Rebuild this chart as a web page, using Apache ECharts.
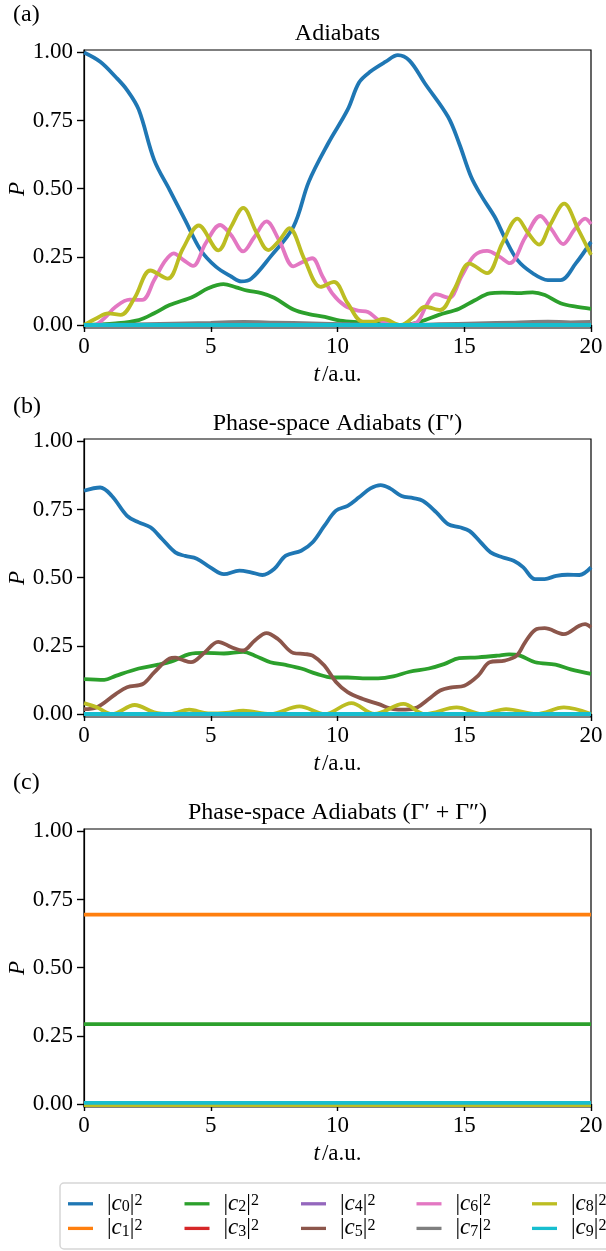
<!DOCTYPE html>
<html>
<head>
<meta charset="utf-8">
<script src="https://cdn.jsdelivr.net/npm/echarts@6/dist/echarts.min.js"></script>
<style>
html,body{margin:0;padding:0;background:#fff;}
#chart{width:606px;height:1251px;}
</style>
</head>
<body>
<div id="chart"></div>
<script>
// ---------- data ----------
const seriesNames = ['c0','c1','c2','c3','c4','c5','c6','c7','c8','c9'];
const seriesColors = ['#1f77b4','#ff7f0e','#2ca02c','#d62728','#9467bd','#8c564b','#e377c2','#7f7f7f','#bcbd22','#17becf'];
const panelTitles = ['Adiabats', 'Phase-space Adiabats (Γ′)', 'Phase-space Adiabats (Γ′ + Γ″)'];
const panelLetters = ['(a)', '(b)', '(c)'];
const xTicks = [0, 5, 10, 15, 20];
const yTicks = [0, 0.25, 0.5, 0.75, 1.0];

const zeroLine = [[0, 0], [20, 0]];

// panel (a)
const a_c0 = [[0,1.0],[0.64,0.966],[1.25,0.91],[1.7,0.862],[2.16,0.79],[2.77,0.605],[3.38,0.495],[3.99,0.385],[4.6,0.275],[5.2,0.214],[5.82,0.177],[6.2,0.16],[6.6,0.17],[7.35,0.25],[8.26,0.36],[8.87,0.526],[9.63,0.666],[10.4,0.79],[10.85,0.89],[11.3,0.93],[11.9,0.966],[12.38,0.99],[12.84,0.97],[13.45,0.886],[14.36,0.764],[14.8,0.666],[15.27,0.544],[15.7,0.47],[16.2,0.397],[16.6,0.32],[17.1,0.238],[17.7,0.19],[18.3,0.165],[18.8,0.165],[19.4,0.226],[20,0.305]];
const a_c2 = [[0,0],[1.25,0.006],[2.16,0.018],[2.77,0.043],[3.38,0.073],[4.3,0.104],[4.9,0.135],[5.5,0.15],[6.0,0.138],[6.45,0.126],[7.0,0.117],[7.5,0.1],[8.26,0.057],[8.87,0.04],[9.5,0.03],[10.1,0.016],[10.85,0.01],[11.6,0.006],[12.5,0.0],[13.26,0.012],[14.0,0.037],[14.8,0.06],[15.4,0.09],[16.0,0.116],[16.5,0.119],[17.25,0.117],[17.7,0.12],[18.18,0.11],[18.8,0.08],[19.4,0.067],[20,0.059]];
const a_c6 = [[0,0],[0.4,0.0],[0.8,0.025],[1.25,0.067],[1.8,0.093],[2.3,0.092],[2.77,0.165],[3.2,0.235],[3.54,0.263],[3.9,0.24],[4.3,0.217],[4.8,0.3],[5.37,0.367],[5.8,0.33],[6.28,0.27],[6.7,0.32],[7.2,0.38],[7.7,0.31],[8.26,0.215],[8.6,0.23],[9.0,0.245],[9.4,0.18],[9.8,0.115],[10.3,0.07],[10.8,0.053],[11.2,0.048],[11.6,0.02],[12.0,0.008],[12.5,0.0],[13.1,0.008],[13.5,0.07],[13.87,0.113],[14.4,0.1],[14.9,0.18],[15.4,0.255],[15.9,0.272],[16.4,0.25],[16.8,0.227],[17.4,0.32],[18.0,0.4],[18.45,0.35],[18.9,0.297],[19.35,0.35],[19.77,0.39],[20,0.37]];
const a_c7 = [[0,0],[2,0.002],[4,0.006],[5,0.008],[6.3,0.011],[7.5,0.009],[9,0.006],[10.5,0.003],[12.5,0.0],[14,0.003],[15.5,0.006],[17,0.009],[18.3,0.012],[19.2,0.01],[20,0.011]];
const a_c8 = [[0,0],[0.5,0.025],[0.95,0.043],[1.45,0.037],[2.0,0.1],[2.62,0.2],[3.3,0.17],[3.9,0.28],[4.53,0.365],[5.3,0.274],[5.8,0.36],[6.28,0.43],[6.8,0.34],[7.27,0.275],[7.7,0.31],[8.1,0.355],[8.7,0.24],[9.33,0.14],[9.86,0.158],[10.4,0.08],[11.0,0.012],[11.4,0.012],[11.8,0.022],[12.5,0.0],[13.0,0.03],[13.45,0.067],[14.05,0.055],[14.6,0.13],[15.2,0.225],[15.9,0.19],[16.5,0.3],[17.1,0.39],[17.5,0.34],[17.95,0.295],[18.4,0.37],[18.94,0.445],[19.5,0.35],[20,0.257]];

// panel (b)
const b_c0 = [[0,0.819],[0.64,0.831],[1.1,0.80],[1.7,0.727],[2.16,0.703],[2.62,0.685],[3.08,0.642],[3.6,0.593],[3.99,0.58],[4.45,0.57],[4.98,0.538],[5.52,0.513],[6.13,0.526],[6.58,0.52],[7.04,0.51],[7.5,0.532],[7.96,0.581],[8.57,0.599],[9.02,0.63],[9.48,0.69],[9.94,0.746],[10.4,0.764],[10.85,0.795],[11.3,0.828],[11.7,0.84],[12.07,0.828],[12.53,0.80],[12.99,0.792],[13.37,0.782],[13.9,0.74],[14.36,0.697],[14.82,0.685],[15.2,0.672],[15.65,0.63],[16.04,0.593],[16.5,0.575],[16.95,0.562],[17.33,0.538],[17.79,0.495],[18.17,0.495],[18.63,0.507],[19.08,0.511],[19.54,0.51],[20,0.538]];
const b_c2 = [[0,0.128],[0.8,0.125],[1.25,0.14],[2.16,0.167],[2.93,0.181],[3.54,0.196],[4.15,0.22],[4.76,0.224],[5.52,0.222],[6.28,0.228],[6.74,0.214],[7.35,0.19],[7.96,0.18],[8.57,0.167],[9.18,0.147],[9.79,0.134],[10.4,0.134],[11.0,0.131],[11.6,0.131],[12.2,0.138],[12.84,0.155],[13.6,0.167],[14.2,0.183],[14.8,0.205],[15.55,0.208],[16.3,0.214],[16.77,0.219],[17.2,0.214],[17.8,0.19],[18.6,0.181],[19.2,0.164],[20,0.147]];
const b_c5 = [[0,0.018],[0.49,0.024],[1.25,0.073],[1.7,0.098],[2.32,0.11],[2.77,0.153],[3.38,0.204],[3.6,0.207],[3.84,0.2],[4.22,0.19],[4.76,0.226],[5.29,0.265],[5.82,0.245],[6.28,0.233],[6.74,0.27],[7.2,0.297],[7.65,0.275],[8.26,0.224],[8.72,0.22],[9.02,0.214],[9.48,0.178],[9.94,0.117],[10.4,0.08],[11.0,0.055],[11.6,0.037],[12.2,0.018],[12.68,0.016],[13.14,0.024],[13.6,0.055],[14.05,0.086],[14.5,0.098],[15.0,0.104],[15.55,0.141],[16.0,0.19],[16.6,0.196],[17.07,0.214],[17.4,0.263],[17.8,0.309],[18.17,0.315],[18.93,0.293],[19.54,0.324],[19.77,0.33],[20,0.318]];
const b_c8 = [[0,0.04],[0.5,0.025],[1.1,0.0],[2.0,0.033],[2.77,0.006],[3.4,0.0],[4.15,0.016],[4.9,0.002],[5.6,0.004],[6.28,0.012],[7.35,0.0],[8.5,0.028],[9.5,0.0],[10.55,0.04],[11.46,0.0],[12.6,0.037],[13.45,0.0],[14.7,0.024],[15.7,0.0],[16.65,0.018],[17.85,0.0],[18.93,0.024],[20,0.0]];

// panel (c)
const c_c1 = [[0,0.695],[20,0.695]];
const c_c2 = [[0,0.293],[20,0.293]];
const c_c8 = [[0,-0.004],[20,-0.004]];
const c_c9 = [[0,0.004],[20,0.004]];

const panelA = [a_c0, zeroLine, a_c2, zeroLine, zeroLine, zeroLine, a_c6, a_c7, a_c8, zeroLine];
const panelB = [b_c0, zeroLine, b_c2, zeroLine, zeroLine, b_c5, zeroLine, zeroLine, b_c8, zeroLine];
const panelC = [zeroLine, c_c1, c_c2, zeroLine, zeroLine, zeroLine, zeroLine, zeroLine, c_c8, c_c9];
const panels = [panelA, panelB, panelC];

// ---------- layout ----------
const FONT = 'Liberation Serif';
const gridTops = [50, 439, 829];
const gridLeft = 84, gridWidth = 507, gridHeight = 278;
const titleTops = [22, 411.5, 801];
const letterTops = [2.6, 395, 770.6];

const grids = [], xAxes = [], yAxes = [], series = [], titles = [];
panels.forEach((panel, p) => {
  grids.push({left: gridLeft, top: gridTops[p], width: gridWidth, height: gridHeight,
    outerBoundsMode: 'none', containLabel: false,
    show: true, borderColor: '#000', borderWidth: 1.2, backgroundColor: 'transparent'});
  xAxes.push({
    type: 'value', gridIndex: p, min: 0, max: 20, interval: 5,
    name: '{i|t}{r|/a.u.}', nameLocation: 'middle', nameGap: 35, nameMoveOverlap: false,
    nameTextStyle: {color: '#000', rich: {
      i: {fontFamily: FONT, fontSize: 23, fontStyle: 'italic', lineHeight: 23, color: '#000', padding: [0, 2, 0, 0]},
      r: {fontFamily: FONT, fontSize: 23, lineHeight: 23, color: '#000'}
    }},
    axisLine: {show: true, lineStyle: {color: '#000', width: 1.2}},
    axisTick: {show: true, length: 7, lineStyle: {color: '#000', width: 1.4}, customValues: xTicks},
    axisLabel: {fontFamily: FONT, fontSize: 23, color: '#000', margin: 7, customValues: xTicks},
    splitLine: {show: false}
  });
  yAxes.push({
    type: 'value', gridIndex: p, min: -0.011, max: 1.009,
    name: 'P', nameLocation: 'middle', nameGap: 55, nameMoveOverlap: false,
    nameTextStyle: {fontFamily: FONT, fontSize: 23, fontStyle: 'italic', color: '#000'},
    axisLine: {show: true, lineStyle: {color: '#000', width: 1.2}},
    axisTick: {show: true, length: 7, lineStyle: {color: '#000', width: 1.4}, customValues: yTicks},
    axisLabel: {fontFamily: FONT, fontSize: 23, color: '#000', margin: 11, customValues: yTicks,
      formatter: v => v.toFixed(2)},
    splitLine: {show: false}
  });
  panel.forEach((data, k) => {
    series.push({
      type: 'line', name: seriesNames[k], xAxisIndex: p, yAxisIndex: p,
      data: data, showSymbol: false, symbol: 'none', smooth: 0.35,
      color: seriesColors[k], itemStyle: {color: seriesColors[k]},
      lineStyle: {color: seriesColors[k], width: 3.8},
      emphasis: {disabled: true}, animation: false, clip: true
    });
  });
  titles.push({text: panelTitles[p], left: gridLeft + gridWidth / 2, textAlign: 'center', top: titleTops[p], padding: 0,
    textStyle: {fontFamily: FONT, fontSize: 24, fontWeight: 'normal', color: '#000'}});
  titles.push({text: panelLetters[p], left: 13, top: letterTops[p], padding: 0,
    textStyle: {fontFamily: FONT, fontSize: 24, fontWeight: 'normal', color: '#000'}});
});

// legends: 5 columns of 2
const legendLefts = [68, 184.5, 301, 416.5, 532];
const legendRich = {
  b0: {fontFamily: FONT, fontSize: 23, lineHeight: 22, color: '#000', padding: [0, 0, 0, 9]},
  b: {fontFamily: FONT, fontSize: 23, lineHeight: 22, color: '#000'},
  i: {fontFamily: FONT, fontSize: 23, lineHeight: 22, fontStyle: 'italic', color: '#000'},
  s: {fontFamily: FONT, fontSize: 16, lineHeight: 12, verticalAlign: 'bottom', color: '#000'},
  p: {fontFamily: FONT, fontSize: 16, lineHeight: 12, verticalAlign: 'top', color: '#000'}
};
const legends = legendLefts.map((lx, j) => ({
  orient: 'vertical', left: lx, top: 1192.3, padding: 0, itemGap: 1.6,
  itemWidth: 25, itemHeight: 3.3, icon: 'rect', selectedMode: false,
  data: [seriesNames[2 * j], seriesNames[2 * j + 1]],
  formatter: name => '{b0||}{i|c}{s|' + name.slice(1) + '}{b||}{p|2}',
  textStyle: {fontFamily: FONT, fontSize: 23, color: '#000', rich: legendRich}
}));

const chart = echarts.init(document.getElementById('chart'), null, {renderer: 'canvas'});
chart.setOption({
  animation: false,
  backgroundColor: '#fff',
  title: titles,
  grid: grids,
  xAxis: xAxes,
  yAxis: yAxes,
  legend: legends,
  graphic: [{type: 'rect', z: -1, silent: true,
    shape: {x: 60, y: 1183, width: 570, height: 66, r: 4},
    style: {fill: '#fff', stroke: '#d6d6d6', lineWidth: 1.5}}],
  series: series
});
</script>
</body>
</html>
